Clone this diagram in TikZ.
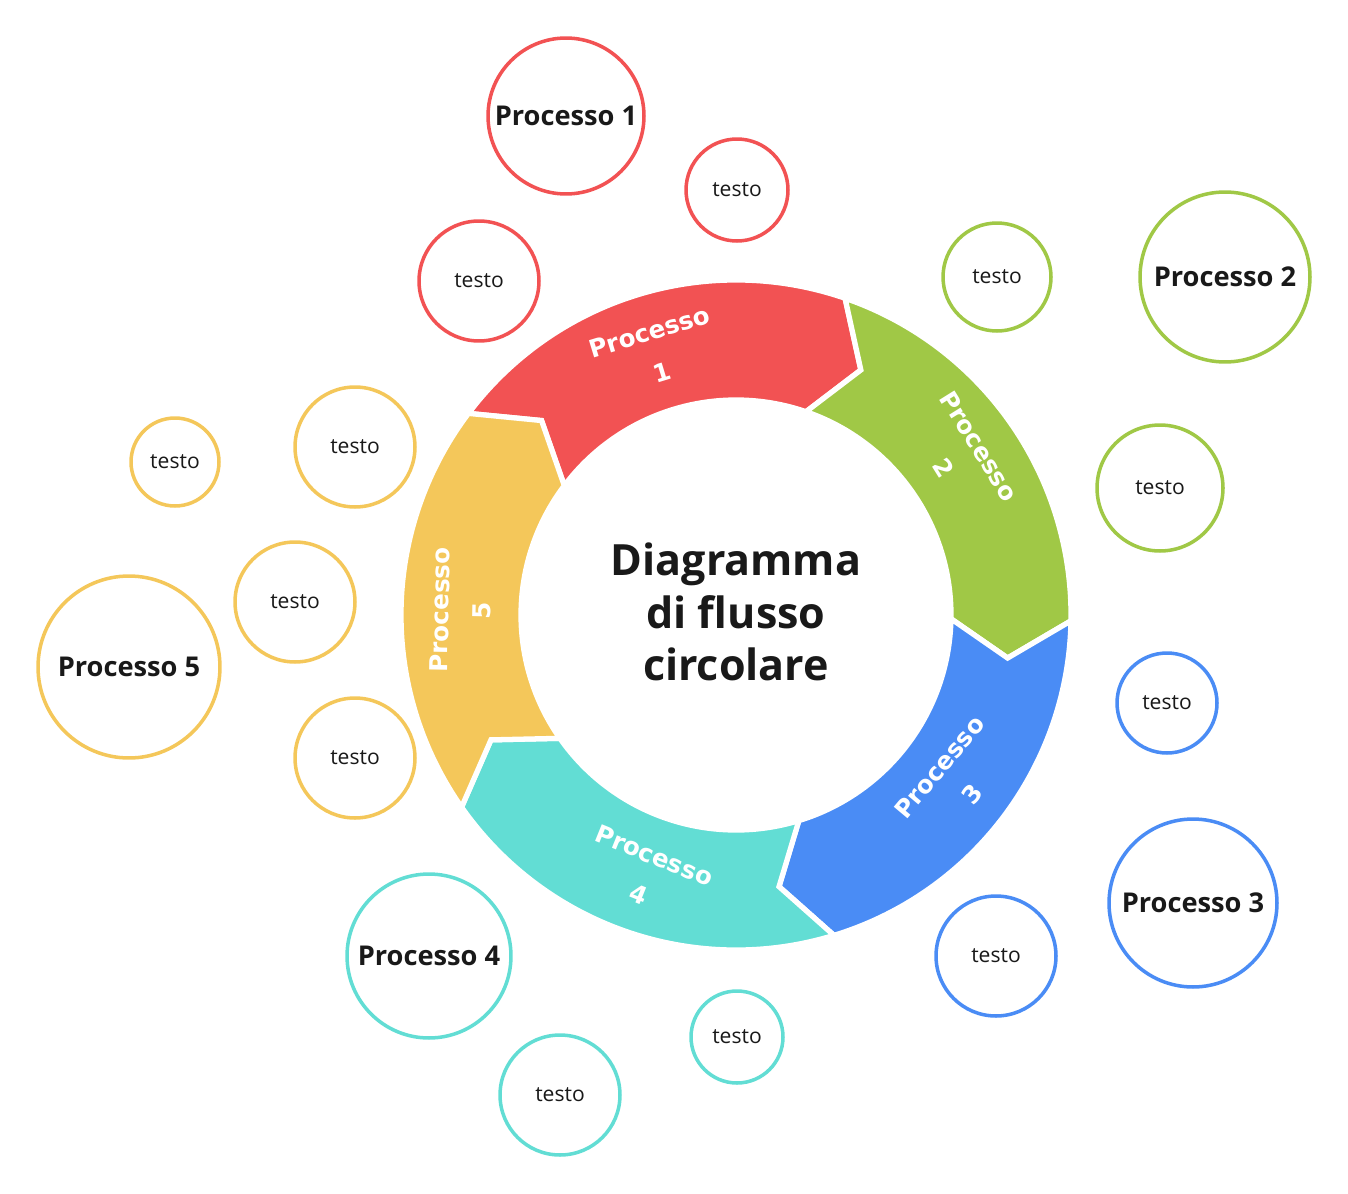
\documentclass[tikz,border=0pt]{standalone}
\usepackage{fontspec}
\setmainfont{Open Sans}
\newfontfamily\segfont{DejaVu Sans}
\definecolor{cRed}{HTML}{F25253}
\definecolor{cGreen}{HTML}{A0C846}
\definecolor{cBlue}{HTML}{4A8CF5}
\definecolor{cTeal}{HTML}{62DDD4}
\definecolor{cYellow}{HTML}{F4C75A}
\begin{document}
\begin{tikzpicture}[x=0.02cm,y=-0.02cm,semithick]
  \tikzstyle{big}=[circle,line width=2pt,fill=white,font=\bfseries\fontsize{15.5}{18}\selectfont,text=black!90,inner sep=0pt]
  \tikzstyle{small}=[circle,line width=2pt,fill=white,font=\fontsize{12}{14}\selectfont,text=black!90,inner sep=0pt]
  \tikzstyle{seg}=[draw=white,line width=3pt,line join=miter]
  \tikzstyle{segtext}=[text=white,font=\segfont\bfseries\fontsize{14}{24}\selectfont,align=center]

  \useasboundingbox (0,0) rectangle (1348,1193);

  % ring of arrows
  \begin{scope}[shift={(736,615)},x=0.02cm,y=0.02cm]
    \foreach \k/\col in {0/cRed,1/cGreen,2/cBlue,3/cTeal,4/cYellow} {
      \pgfmathsetmacro{\s}{143-72*\k}
      \pgfmathsetmacro{\e}{\s-72}
      \fill[cRed,fill=\col,seg] (\s:335) arc[start angle=\s,end angle=\e,radius=335]
        -- (\e-8:275) -- (\e:215) arc[start angle=\e,end angle=\s,radius=215]
        -- (\s-8:275) -- cycle;
    }
    \node[segtext,rotate=17]  (L1) at (107:275) {Processo\\1};
    \node[segtext,rotate=-58] (L2) at (35:275)  {Processo\\2};
    \node[segtext,rotate=50]  (L3) at (-37:275) {Processo\\3};
    \node[segtext,rotate=-22] (L4) at (-109:275) {Processo\\4};
    \node[segtext,rotate=89]  (L5) at (179:275) {Processo\\5};
  \end{scope}

  \node[align=center,font=\bfseries\fontsize{24.5}{30}\selectfont,text=black!90] (T) at (736,612)
    {Diagramma\\di flusso\\circolare};

  % red
  \node[big,draw=cRed,minimum size=3.12cm] (P1) at (566,116) {Processo 1};
  \node[small,draw=cRed,minimum size=2.04cm] (R1) at (737,190) {testo};
  \node[small,draw=cRed,minimum size=2.4cm] (R2) at (479,281) {testo};
  % green
  \node[small,draw=cGreen,minimum size=2.16cm] (G1) at (997,277) {testo};
  \node[big,draw=cGreen,minimum size=3.4cm] (P2) at (1225,277) {Processo 2};
  \node[small,draw=cGreen,minimum size=2.52cm] (G2) at (1160,488) {testo};
  % blue
  \node[small,draw=cBlue,minimum size=2cm] (B1) at (1167,703) {testo};
  \node[big,draw=cBlue,minimum size=3.36cm] (P3) at (1193,903) {Processo 3};
  \node[small,draw=cBlue,minimum size=2.4cm] (B2) at (996,956) {testo};
  % teal
  \node[big,draw=cTeal,minimum size=3.28cm] (P4) at (429,956) {Processo 4};
  \node[small,draw=cTeal,minimum size=1.84cm] (C1) at (737,1037) {testo};
  \node[small,draw=cTeal,minimum size=2.4cm] (C2) at (560,1095) {testo};
  % yellow
  \node[small,draw=cYellow,minimum size=1.76cm] (Y1) at (175,462) {testo};
  \node[small,draw=cYellow,minimum size=2.4cm] (Y2) at (355,447) {testo};
  \node[small,draw=cYellow,minimum size=2.4cm] (Y3) at (295,602) {testo};
  \node[big,draw=cYellow,minimum size=3.64cm] (P5) at (129,667) {Processo 5};
  \node[small,draw=cYellow,minimum size=2.4cm] (Y4) at (355,758) {testo};
\end{tikzpicture}
\end{document}
